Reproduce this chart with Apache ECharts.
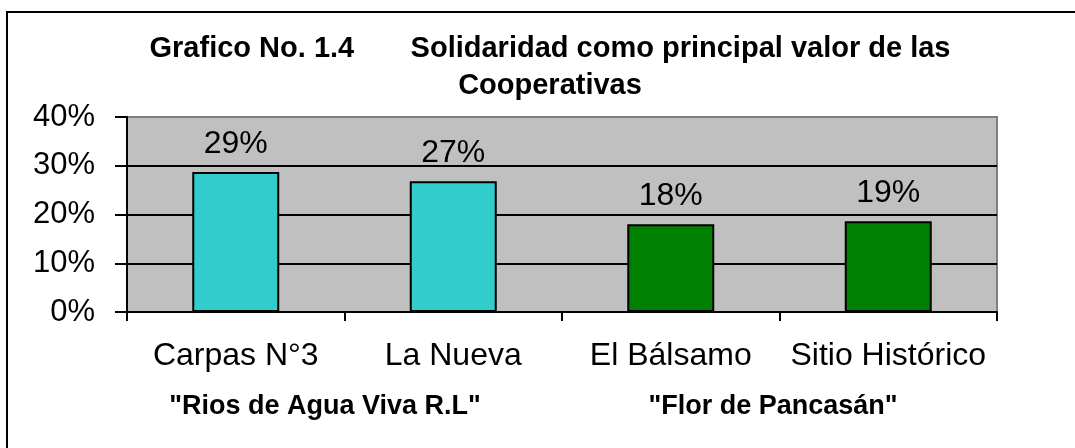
<!DOCTYPE html>
<html>
<head>
<meta charset="utf-8">
<script src="https://cdn.jsdelivr.net/npm/echarts@6/dist/echarts.min.js"></script>
<style>
  html, body { margin: 0; padding: 0; background: #fff; }
  #chart { width: 1075px; height: 448px; }
</style>
</head>
<body>
<div id="chart"></div>
<script>
// datos del grafico
var categorias = ['Carpas N°3', 'La Nueva', 'El Bálsamo', 'Sitio Histórico'];
var valores = [28.7, 26.8, 18.0, 18.6];
var colores = ['#33CCCC', '#33CCCC', '#008000', '#008000'];
var grupos = ['"Rios de Agua Viva R.L"', '"Flor de Pancasán"'];
var ticksY = [0, 10, 20, 30, 40];

var FONT = '"Liberation Sans", Arial, sans-serif';

var chart = echarts.init(document.getElementById('chart'));
var option = {
  animation: false,
  backgroundColor: '#fff',
  title: {
    text: 'Grafico No. 1.4       Solidaridad como principal valor de las\nCooperativas',
    left: 545,
    top: 25,
    textAlign: 'center',
    textStyle: {
      fontFamily: FONT,
      fontSize: 29,
      fontWeight: 'bold',
      color: '#000',
      lineHeight: 37,
      align: 'center'
    }
  },
  grid: {
    left: 127,
    right: 78,
    top: 117,
    bottom: 136,
    show: true,
    backgroundColor: '#C0C0C0',
    borderColor: '#808080',
    borderWidth: 2
  },
  xAxis: {
    type: 'category',
    data: categorias,
    axisLine: { lineStyle: { color: '#000', width: 2 } },
    axisTick: { show: true, length: 9, lineStyle: { color: '#000', width: 2 } },
    axisLabel: {
      interval: 0,
      margin: 28,
      fontFamily: FONT,
      fontSize: 32,
      color: '#000'
    }
  },
  yAxis: {
    type: 'value',
    min: ticksY[0],
    max: ticksY[ticksY.length - 1],
    interval: 10,
    axisLine: { show: true, lineStyle: { color: '#000', width: 2 } },
    axisTick: { show: true, length: 12, lineStyle: { color: '#000', width: 2 } },
    axisLabel: {
      margin: 32,
      fontFamily: FONT,
      fontSize: 31,
      color: '#000',
      formatter: function (v) { return v + '%'; }
    },
    splitLine: {
      show: true,
      showMaxLine: false,
      lineStyle: { color: '#000', width: 2 }
    }
  },
  series: [
    {
      type: 'bar',
      barWidth: '40%',
      data: valores.map(function (v, i) {
        return { value: v, itemStyle: { color: colores[i] } };
      }),
      itemStyle: { borderColor: '#000', borderWidth: 2 },
      label: {
        show: true,
        position: 'top',
        distance: 12,
        fontFamily: FONT,
        fontSize: 32,
        color: '#000',
        formatter: function (p) { return Math.round(p.value) + '%'; }
      }
    }
  ],
  graphic: [
    {
      type: 'rect',
      shape: { x: 7, y: 12, width: 1200, height: 600 },
      style: { fill: 'none', stroke: '#000', lineWidth: 2 },
      silent: true
    },
    {
      type: 'text',
      x: 325,
      y: 407,
      style: {
        text: grupos[0],
        fontFamily: FONT,
        fontSize: 27,
        fontWeight: 'bold',
        fill: '#000',
        textAlign: 'center',
        textVerticalAlign: 'middle'
      }
    },
    {
      type: 'text',
      x: 773,
      y: 407,
      style: {
        text: grupos[1],
        fontFamily: FONT,
        fontSize: 27,
        fontWeight: 'bold',
        fill: '#000',
        textAlign: 'center',
        textVerticalAlign: 'middle'
      }
    }
  ]
};
chart.setOption(option);
</script>
</body>
</html>
